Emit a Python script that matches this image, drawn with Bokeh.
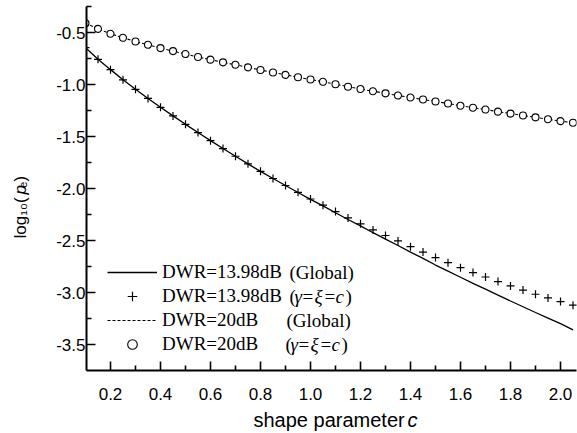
import math
from bokeh.plotting import figure
from bokeh.models import (Range1d, FixedTicker, PrintfTickFormatter, Legend,
                          LegendItem, Label)
from bokeh.embed import file_html
from bokeh.resources import INLINE

# shape parameter c
shape_c = [0.10, 0.15, 0.20, 0.25, 0.30, 0.35, 0.40, 0.45, 0.50, 0.55,
           0.60, 0.65, 0.70, 0.75, 0.80, 0.85, 0.90, 0.95, 1.00, 1.05,
           1.10, 1.15, 1.20, 1.25, 1.30, 1.35, 1.40, 1.45, 1.50, 1.55,
           1.60, 1.65, 1.70, 1.75, 1.80, 1.85, 1.90, 1.95, 2.00, 2.05]

# log10(pe), DWR = 13.98 dB, global optimum
dwr1398_global = [-0.645, -0.758, -0.857, -0.955, -1.046, -1.134, -1.219, -1.302, -1.383, -1.462,
                  -1.540, -1.616, -1.690, -1.763, -1.835, -1.904, -1.971, -2.038, -2.105, -2.167,
                  -2.233, -2.298, -2.360, -2.425, -2.487, -2.548, -2.612, -2.672, -2.736, -2.795,
                  -2.853, -2.912, -2.968, -3.025, -3.082, -3.137, -3.192, -3.246, -3.300, -3.360]

# log10(pe), DWR = 13.98 dB, gamma = xi = c
dwr1398_equal = [-0.645, -0.758, -0.857, -0.955, -1.046, -1.134, -1.219, -1.302, -1.383, -1.462,
                 -1.540, -1.616, -1.690, -1.763, -1.835, -1.904, -1.971, -2.037, -2.101, -2.160,
                 -2.222, -2.283, -2.340, -2.398, -2.452, -2.504, -2.559, -2.611, -2.664, -2.713,
                 -2.761, -2.808, -2.851, -2.895, -2.937, -2.977, -3.017, -3.052, -3.087, -3.122]

# log10(pe), DWR = 20 dB, global optimum
dwr20_global = [-0.411, -0.465, -0.512, -0.551, -0.586, -0.618, -0.650, -0.679, -0.707, -0.736,
                -0.761, -0.787, -0.810, -0.835, -0.860, -0.884, -0.907, -0.930, -0.952, -0.974,
                -0.997, -1.021, -1.043, -1.065, -1.085, -1.106, -1.125, -1.144, -1.163, -1.183,
                -1.204, -1.223, -1.241, -1.261, -1.280, -1.298, -1.316, -1.334, -1.352, -1.368]

# log10(pe), DWR = 20 dB, gamma = xi = c
dwr20_equal = [-0.411, -0.465, -0.512, -0.551, -0.586, -0.618, -0.650, -0.679, -0.707, -0.736,
               -0.761, -0.787, -0.810, -0.835, -0.860, -0.884, -0.907, -0.930, -0.952, -0.974,
               -0.997, -1.021, -1.043, -1.065, -1.085, -1.106, -1.125, -1.144, -1.163, -1.183,
               -1.204, -1.223, -1.241, -1.261, -1.280, -1.298, -1.316, -1.334, -1.352, -1.368]

x_ticks = [0.2, 0.4, 0.6, 0.8, 1.0, 1.2, 1.4, 1.6, 1.8, 2.0]
x_minor = [0.1, 0.3, 0.5, 0.7, 0.9, 1.1, 1.3, 1.5, 1.7, 1.9]
y_ticks = [-3.5, -3.0, -2.5, -2.0, -1.5, -1.0, -0.5]
y_minor = [-3.25, -2.75, -2.25, -1.75, -1.25, -0.75, -0.25]

legend_names = ["DWR=13.98dB", "DWR=13.98dB", "DWR=20dB", "DWR=20dB"]

W, H = 577, 433
LEFT, RIGHT, TOP, BOTTOM = 86, 1, 6, 63
FRAME_B = H - BOTTOM  # canvas y of the frame's bottom edge

p = figure(width=W, height=H, output_backend="svg", toolbar_location=None,
           x_range=Range1d(0.104, 2.064), y_range=Range1d(-3.75, -0.25),
           min_border_left=LEFT, min_border_right=RIGHT,
           min_border_top=TOP, min_border_bottom=BOTTOM)
p.outline_line_color = None
p.grid.visible = False
p.background_fill_color = "white"
p.border_fill_color = "white"

for ax in (p.xaxis[0], p.yaxis[0]):
    ax.axis_line_width = 2
    ax.axis_line_color = "black"
    ax.major_tick_in = 9
    ax.major_tick_out = 0
    ax.minor_tick_in = 5
    ax.minor_tick_out = 0
    ax.major_tick_line_width = 1.6
    ax.minor_tick_line_width = 1.6
    ax.major_tick_line_color = "black"
    ax.minor_tick_line_color = "black"
    ax.major_label_text_font = "Liberation Sans"
    ax.major_label_text_font_size = "17px"
    ax.major_label_text_color = "black"
    ax.formatter = PrintfTickFormatter(format="%.1f")

p.xaxis[0].ticker = FixedTicker(ticks=x_ticks, minor_ticks=x_minor)
p.yaxis[0].ticker = FixedTicker(ticks=y_ticks, minor_ticks=y_minor)
p.xaxis[0].major_label_standoff = 17
p.yaxis[0].major_label_standoff = 1

# curves
r_g1 = p.line(shape_c, dwr1398_global, line_color="black", line_width=1.3)
r_e1 = p.scatter(shape_c, dwr1398_equal, marker="cross", size=8,
                 line_color="black", line_width=1.2)
r_g2 = p.line(shape_c, dwr20_global, line_color="black", line_width=1.1,
              line_dash="3 2")
r_e2 = p.scatter(shape_c, dwr20_equal, marker="circle", size=7,
                 line_color="black", line_width=1.1, fill_color="white")

legend = Legend(items=[LegendItem(label=legend_names[0], renderers=[r_g1]),
                       LegendItem(label=legend_names[1], renderers=[r_e1]),
                       LegendItem(label=legend_names[2], renderers=[r_g2]),
                       LegendItem(label=legend_names[3], renderers=[r_e2])],
                location=(21, 14), glyph_width=50, glyph_height=24,
                label_height=24, spacing=0, padding=0, margin=0,
                label_standoff=5, border_line_color=None,
                background_fill_alpha=0,
                label_text_font="Liberation Serif",
                label_text_font_size="19px", label_text_color="black")
p.add_layout(legend)


def text_label(text, x, y, size, style="normal", font="Liberation Serif",
               baseline="middle", angle=0.0):
    return Label(x=x, y=y, x_units="screen", y_units="screen", text=text,
                 text_font=font, text_font_size=f"{size}px",
                 text_font_style=style, text_baseline=baseline,
                 text_align="left", angle=angle, text_color="black")


def put_in_frame(text, x, y, size, style="normal"):
    """Text piece inside the frame, at absolute canvas pixel (x, y)."""
    p.add_layout(text_label(text, x - LEFT, FRAME_B - y, size, style))


# legend qualifiers: (Global) and (gamma = xi = c)
row_y = [272, 296, 320, 344]
put_in_frame("(Global)", 289, row_y[0], 19)
put_in_frame("(Global)", 286, row_y[2], 19)
for x0, yy in ((289, row_y[1]), (285, row_y[3])):
    put_in_frame("(", x0, yy, 19)
    put_in_frame("γ", x0 + 5, yy, 19, "italic")
    put_in_frame("=", x0 + 13, yy, 19)
    put_in_frame("ξ", x0 + 25, yy, 19, "italic")
    put_in_frame("=", x0 + 35, yy, 19)
    put_in_frame("c", x0 + 46, yy, 19, "italic")
    put_in_frame(")", x0 + 56, yy, 19)

# ---- axis titles, each piece in its own side panel ----
UP = math.pi / 2
SANS = "Liberation Sans"

# x title, upright part: panel below the x axis (left edge = frame left)
XT_PANEL_B = 428
p.add_layout(text_label("shape parameter", 253 - LEFT, XT_PANEL_B - 423, 20,
                        font=SANS, baseline="alphabetic"), "below")

# left-side panels (bottom edge on the canvas, and left edges)
LP_B = 375
A_LEFT, B_LEFT, D_LEFT = 42.5, 22.8, 4.9
# y title: upright part with a gap for the italic p, then the italic p
p.add_layout(text_label("log\u2081\u2080(\u00a0\u00a0\u2091)", 28 - A_LEFT,
                        LP_B - 243, 17, font=SANS, baseline="alphabetic",
                        angle=UP), "left")
p.add_layout(text_label("p", 28 - B_LEFT, LP_B - 199, 17, "italic",
                        font=SANS, baseline="alphabetic", angle=UP), "left")
# italic c of the x title
p.add_layout(text_label("c", 407 - D_LEFT, LP_B - 424, 20, "italic",
                        font=SANS, baseline="alphabetic"), "left")

open("out.html", "w").write(file_html(p, INLINE))
